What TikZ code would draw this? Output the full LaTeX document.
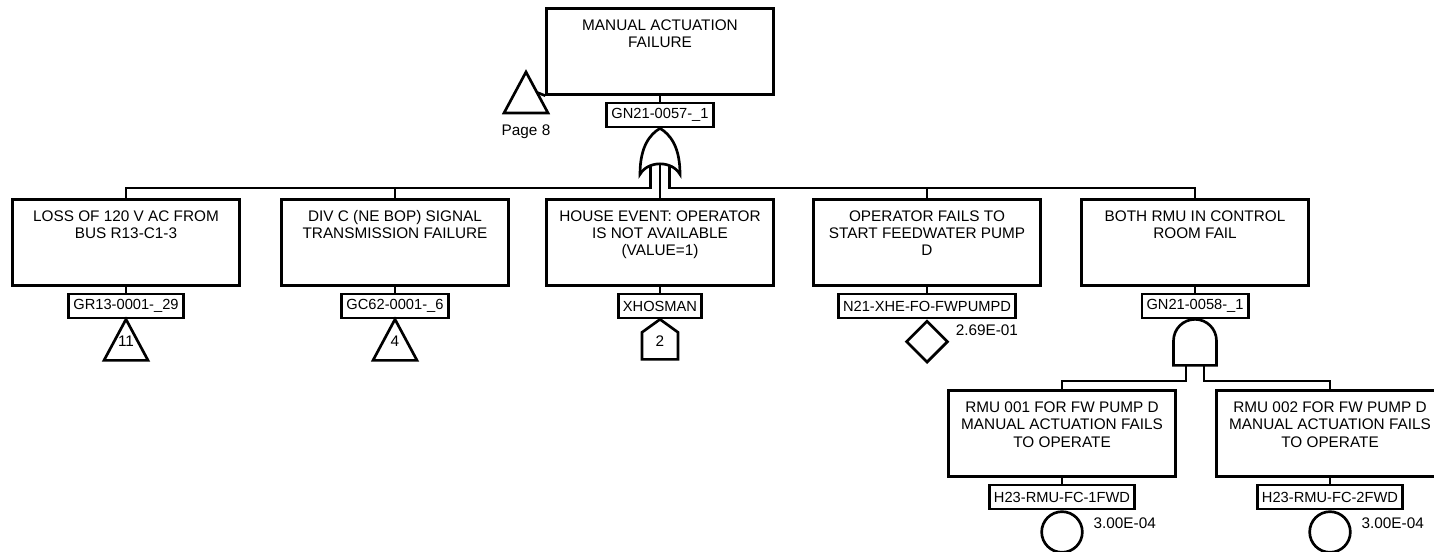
\documentclass[tikz,border=0pt]{standalone}
\usepackage{fontspec}
\setmainfont{Liberation Sans}
\usetikzlibrary{positioning, shapes.geometric}
\newcommand{\evtext}[1]{\parbox[t][64.5pt][t]{170pt}{\centering\fontsize{11.5}{13}\selectfont\rule{0pt}{16.5pt}#1}}
\tikzset{
  wire/.style={line width=2pt},
  lbl/.style={inner sep=0pt, font=\fontsize{11.5}{13}\selectfont},
  evbox/.style={draw, line width=2pt, inner sep=0pt, anchor=north},
  idbox/.style={draw, line width=2pt, inner xsep=3.5pt, inner ysep=0pt,
    minimum height=18pt, font=\fontsize{11}{13}\selectfont},
  prob/.style={lbl, anchor=west},
  basic/.style={circle, draw, line width=2pt, minimum size=30.5pt, inner sep=0pt},
  undev/.style={diamond, draw, line width=2pt, minimum width=31.5pt, minimum height=31.5pt, inner sep=0pt},
  orgate/.pic={
    \draw[wire] (0,0) .. controls (-10,6) and (-20,18) .. (-20,46)
      .. controls (-12,32) and (12,32) .. (20,46)
      .. controls (20,18) and (10,6) .. (0,0) -- cycle;
    \coordinate (-l) at (-9.5,37.5);
    \coordinate (-m) at (0,35.5);
    \coordinate (-r) at (9.5,37.5);
  },
  andgate/.pic={
    \draw[wire] (-21.5,46) -- (-21.5,21.5) .. controls (-21.5,9.6) and (-11.9,0) .. (0,0)
      .. controls (11.9,0) and (21.5,9.6) .. (21.5,21.5) -- (21.5,46) -- cycle;
    \coordinate (-l) at (-9,46);
    \coordinate (-r) at (9,46);
  },
  xfer/.pic={
    \draw[wire] (0,0) -- (-22,41) -- (22,41) -- cycle;
    \node[lbl] (-num) at (0,22) {#1};
    \coordinate (-side) at (11,20.5);
    \coordinate (-base) at (0,41);
  },
  house/.pic={
    \draw[wire] (0,0) -- (-18,13) -- (-18,40) -- (18,40) -- (18,13) -- cycle;
    \node[lbl] (-num) at (0,22) {#1};
  },
}

\begin{document}
\begin{tikzpicture}[x=0.75pt, y=-0.75pt]
  \useasboundingbox (0,0) rectangle (1434,552);
  \coordinate (busA) at (0,188);
  \coordinate (busB) at (0,381);

  % top event with its transfer-in triangle
  \node[evbox] (e0) at (660,7) {\evtext{MANUAL ACTUATION\\FAILURE}};
  \node[idbox, below=4.5pt of e0] (id0) {GN21-0057-\_1};
  \draw[wire] (e0.south) -- (id0.north);
  \pic (t0) at (526,72) {xfer={}};
  \node[lbl, below=9pt of t0-base] (pg8) {Page 8};
  \draw[wire] (e0.south west) -- (t0-side);
  \pic (g0) at (id0.south) {orgate};

  % inputs of the OR gate
  \foreach \n/\x/\txt/\id in {
      1/126/{LOSS OF 120 V AC FROM\\BUS R13-C1-3}/{GR13-0001-\_29},
      2/395/{DIV C (NE BOP) SIGNAL\\TRANSMISSION FAILURE}/{GC62-0001-\_6},
      3/660/{HOUSE EVENT: OPERATOR\\IS NOT AVAILABLE\\(VALUE=1)}/{XHOSMAN},
      4/927/{OPERATOR FAILS TO\\START FEEDWATER PUMP\\D}/{N21-XHE-FO-FWPUMPD},
      5/1195/{BOTH RMU IN CONTROL\\ROOM FAIL}/{GN21-0058-\_1}} {
    \node[evbox] (e\n) at (\x,198) {\evtext{\txt}};
    \node[idbox, below=4.5pt of e\n] (id\n) {\id};
    \draw[wire] (e\n.south) -- (id\n.north);
  }
  \draw[wire] (g0-l) -- (g0-l |- busA) -| (e1.north);
  \draw[wire] (g0-r) -- (g0-r |- busA) -| (e5.north);
  \draw[wire] (g0-m) -- (e3.north);
  \foreach \n in {2,4} \draw[wire] (e\n.north) -- (e\n.north |- busA);

  \pic (t1) at (id1.south) {xfer=11};
  \pic (t2) at (id2.south) {xfer=4};
  \pic (h3) at (id3.south) {house=2};
  \node[undev, below=0pt of id4] (d4) {};
  \node[prob, right=13pt of d4.north east] (p4) {2.69E-01};
  \pic (g5) at (id5.south) {andgate};

  % inputs of the AND gate
  \foreach \n/\x/\idx in {6/1062/1, 7/1330/2} {
    \node[evbox] (e\n) at (\x,389) {\evtext{RMU 00\idx{} FOR FW PUMP D\\MANUAL ACTUATION FAILS\\TO OPERATE}};
    \node[idbox, below=4.5pt of e\n] (id\n) {H23-RMU-FC-\idx FWD};
    \draw[wire] (e\n.south) -- (id\n.north);
    \node[basic, below=0pt of id\n] (c\n) {};
    \node[prob] (p\n) at ([shift={(16,7)}]c\n.north east) {3.00E-04};
  }
  \draw[wire] (g5-l) -- (g5-l |- busB) -| (e6.north);
  \draw[wire] (g5-r) -- (g5-r |- busB) -| (e7.north);
\end{tikzpicture}
\end{document}
